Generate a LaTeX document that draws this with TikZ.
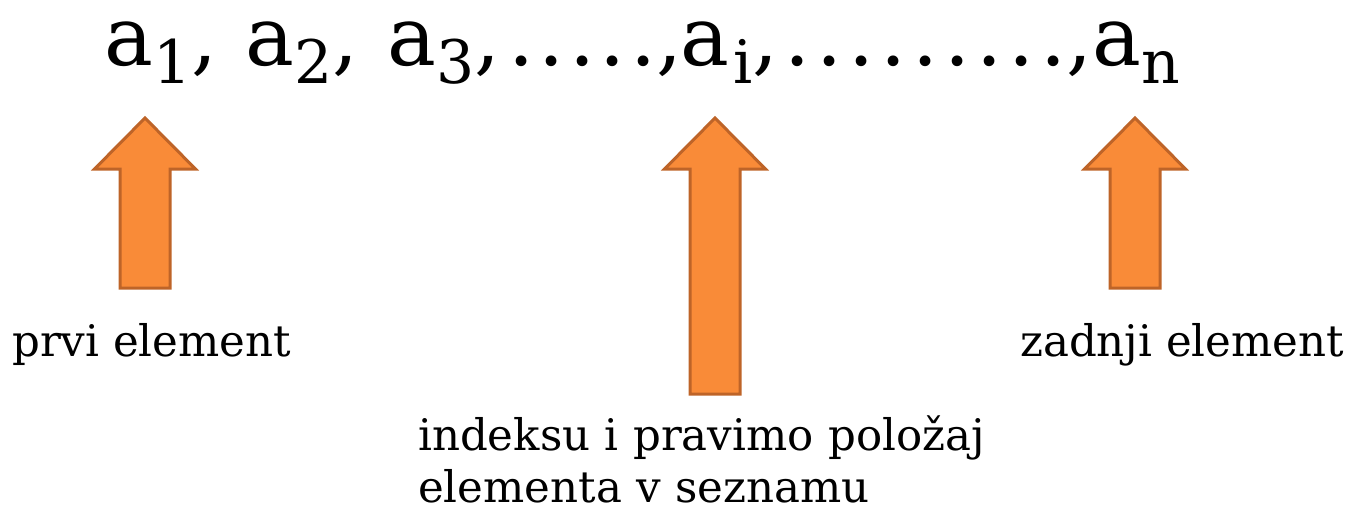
\documentclass[tikz,border=0pt]{standalone}
\usepackage{fontspec}
\setmainfont{DejaVu Serif}
\definecolor{arrfill}{RGB}{249,139,56}
\definecolor{arrdraw}{RGB}{190,100,40}
\newcommand\sbs[1]{\raisebox{-18pt}{\fontsize{60}{60}\selectfont #1}}
\begin{document}
\begin{tikzpicture}[x=1pt,y=-1pt,
  arrowstyle/.style={fill=arrfill,draw=arrdraw,line width=3pt,line join=miter},
  pics/blockarrow/.style={code={
    \draw[arrowstyle] (0,0) -- (50.5,51) -- (25,51) -- (25,#1) -- (-25,#1) -- (-25,51) -- (-50.5,51) -- cycle;}},
  bigtext/.style={inner sep=0pt,anchor=base west,font=\fontsize{82}{90}\selectfont},
  label/.style={inner sep=0pt,anchor=base west,font=\fontsize{43.5}{52}\selectfont,align=left}]
\useasboundingbox (0,0) rectangle (1350,509);
\node[bigtext] (s1) at (104,65) {a\sbs{1},};
\node[bigtext] (s2) at (245,65) {a\sbs{2},};
\node[bigtext] (s3) at (387,65) {a\sbs{3},};
\node[bigtext] (d1) at (508,65) {.\hspace{4.5pt}.\hspace{4.5pt}.\hspace{4.5pt}.\hspace{4.5pt}.,};
\node[bigtext] (si) at (680,65) {a\hspace{4pt}\sbs{i},};
\node[bigtext] (d2) at (784,65) {.\hspace{6pt}.\hspace{6pt}.\hspace{6pt}.\hspace{6pt}.\hspace{6pt}.\hspace{6pt}.\hspace{6pt}.\hspace{6pt}.,};
\node[bigtext] (sn) at (1092,65) {a\sbs{n}};
\pic (arr1) at (145,118) {blockarrow=170};
\pic (arr2) at (715,118) {blockarrow=276};
\pic (arr3) at (1135,118) {blockarrow=170};
\node[label] (first) at (12,356) {prvi element};
\node[label] (last) at (1020,356) {zadnji element};
\node[label,text width=700pt] (idx) at (418,450) {indeksu i pravimo položaj\\elementa v seznamu};
\end{tikzpicture}
\end{document}
